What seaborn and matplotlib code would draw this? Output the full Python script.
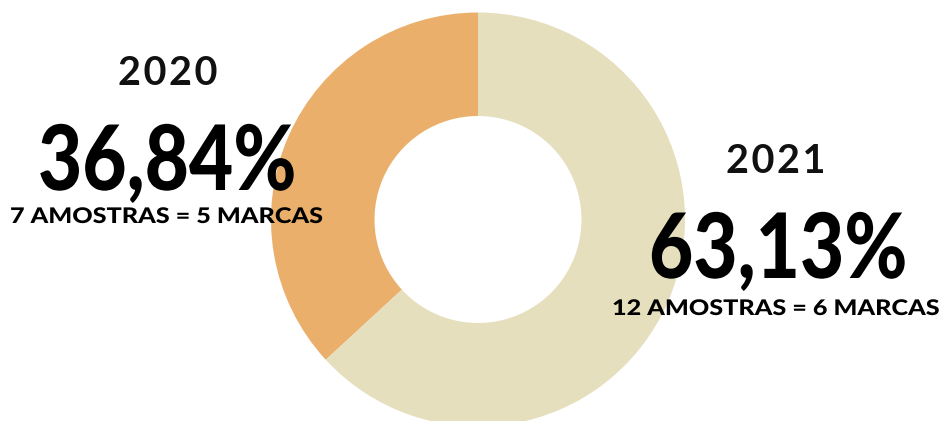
import matplotlib
matplotlib.use("Agg")
import matplotlib.pyplot as plt
import matplotlib.patheffects as pe
from matplotlib.transforms import Affine2D
import seaborn as sns

# Share of samples per year
years = ["2020", "2021"]
shares = [36.84, 63.13]
share_labels = ["36,84%", "63,13%"]
details = ["7 AMOSTRAS = 5 MARCAS", "12 AMOSTRAS = 6 MARCAS"]
colors = ["#EAAF6B", "#E5DFBD"]

sns.set_theme(style="white")
plt.rcParams["font.family"] = ["Lato", "DejaVu Sans"]


class Stretch(pe.AbstractPathEffect):
    """Scale glyph outlines about the text origin (left end of the baseline)."""

    def __init__(self, sx=1.0, sy=1.0):
        super().__init__()
        self.sx = sx
        self.sy = sy

    def draw_path(self, renderer, gc, tpath, affine, rgbFace=None):
        renderer.draw_path(gc, tpath, Affine2D().scale(self.sx, self.sy) + affine, rgbFace)


W, H = 943, 421
fig = plt.figure(figsize=(W / 100, H / 100), dpi=100)
fig.patch.set_facecolor("white")
ax = fig.add_axes([0, 0, 1, 1])

ax.pie(
    shares,
    colors=colors,
    startangle=90,
    counterclock=True,
    radius=207,
    center=(478, H - 219.5),
    wedgeprops=dict(width=103.5, linewidth=0),
    frame=True,
)
ax.set_xlim(0, W)
ax.set_ylim(0, H)
ax.set_aspect("equal")
ax.axis("off")

# text blocks: year centre x / baseline, big number left x / baseline, detail left x / baseline
blocks = [
    (168, 85, 38, 190, 10, 223),
    (776, 173, 649, 278, 612, 315),
]

for (yx, yy, nx, ny, dx, dy), yr, lab, det in zip(blocks, years, share_labels, details):
    ax.text(yx, H - yy, "\u200a".join(yr), ha="center", va="baseline",
            fontsize=28.5, fontweight="bold", color="#111111",
            family=["Lato", "DejaVu Sans"])
    ax.text(nx, H - ny, lab, ha="left", va="baseline",
            fontsize=55, fontweight="black", color="black",
            path_effects=[Stretch(1.0, 65 / 55)])
    ax.text(dx, H - dy, det, ha="left", va="baseline",
            fontsize=15.5, fontweight="black", color="black",
            path_effects=[Stretch(1.17, 1.0)])

fig.savefig("out.png", dpi=100, facecolor="white")
